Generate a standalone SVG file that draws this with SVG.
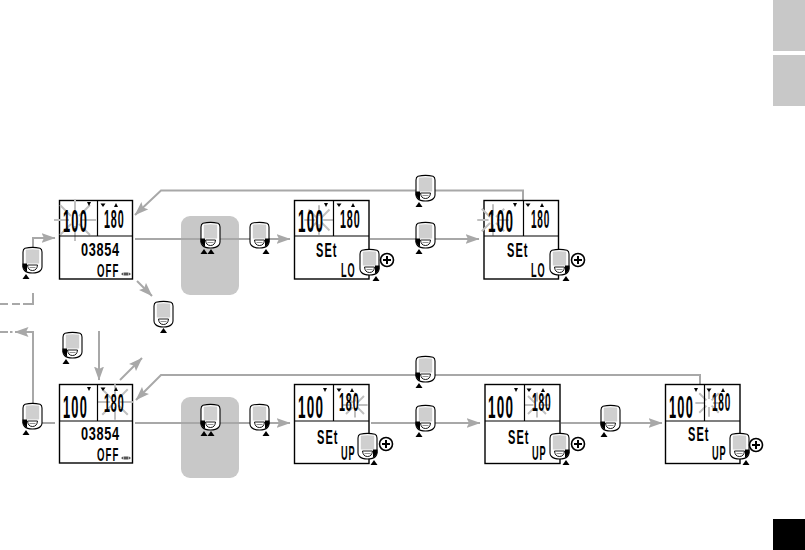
<svg xmlns="http://www.w3.org/2000/svg" width="805" height="550" viewBox="0 0 805 550">
<style>
.disp{fill:#fff;stroke:#000;stroke-width:1.4}
.div{fill:none;stroke:#000;stroke-width:1.2}
.c{fill:none;stroke:#a8a8a8;stroke-width:2}
.ray{fill:none;stroke:#c0c0c0;stroke-width:2;vector-effect:non-scaling-stroke}
.panel{fill:#c8c8c8}
text{font-family:"Liberation Sans",Arial,sans-serif;font-weight:bold;fill:#000}
.a{font-size:32px;letter-spacing:3px}.b{font-size:25px;letter-spacing:2px}.m{font-size:18.500px;letter-spacing:1px}.s{font-size:20px;letter-spacing:2px}.o{font-size:18.500px;letter-spacing:2px}
</style>
<defs>
<marker id="ah" markerUnits="userSpaceOnUse" markerWidth="14" markerHeight="10" refX="13.500" refY="5" orient="auto"><path d="M0 0L14 5L0 10L2.500 5Z" fill="#a8a8a8"/></marker>
<g id="dev">
<path d="M2 1.200Q9.500 -0.500 17 1.200Q19 2 19 5V20Q19 22 17.500 23.500Q15 26 9.500 26Q4 26 1.500 23.500Q0 22 0 20V5Q0 2 2 1.200Z" fill="#fff" stroke="#000" stroke-width="1.100"/>
<path d="M2.800 2.800Q9.500 1.500 16.200 2.800V16.500H2.800Z" fill="#cfcfcf"/>
<path d="M4.500 18H14.500Q14 23.500 9.500 23.500Q5 23.500 4.500 18Z" fill="#fff" stroke="#000" stroke-width="0.900"/>
<path d="M6.500 20.500H12.500" stroke="#777" stroke-width="0.800"/>
</g>
<g id="devL"><use href="#dev"/><path d="M-0.500 16.500H4V24.500L2 23.500L-0.500 20Z" fill="#000"/><path d="M-0.500 32L3 27L6.500 32Z" fill="#000"/></g>
<g id="devR"><use href="#dev"/><path d="M19.500 16.500H15V24.500L17 23.500L19.500 20Z" fill="#000"/><path d="M12.500 32L16 27L19.500 32Z" fill="#000"/></g>
<g id="devC"><use href="#dev"/><path d="M6 32L9.500 27L13 32Z" fill="#000"/></g>
<g id="dev2"><use href="#devL"/><path d="M6.500 32L10 27L13.500 32Z" fill="#000"/></g>
<g id="plus"><circle r="6.500" fill="#fff" stroke="#000" stroke-width="1.600"/><path d="M-4 0H4M0 -4V4" stroke="#000" stroke-width="2"/></g>
<path id="dn" d="M-2 -2H2L0 2Z" fill="#000"/>
<path id="up" d="M-2 2H2L0 -2Z" fill="#000"/>
<path id="hr" d="M-2.500 -1.500H2.500L0 2Z" fill="#000"/>
<path id="st" d="M0 -21V-6M0 21V6M-21 0H-6M21 0H6M-15 -15L-4 -4M15 -15L4 -4M-15 15L-4 4M15 15L4 4" class="ray"/>
<path id="mode" d="M-5 0L-3 -1.500V1.500ZM5 0L3 -1.500V1.500ZM-2.500 -1.500H2.500V1.500H-2.500Z" fill="#555"/>
</defs>
<rect width="805" height="550" fill="#fff"/>

<g id="side-tabs">
<rect class="panel" x="773" y="0" width="32" height="51"/>
<rect class="panel" x="773" y="55" width="32" height="51"/>
<rect x="773" y="519" width="32" height="31" fill="#000"/>
</g>
<g id="panel-top"><rect class="panel" x="181" y="216" width="58" height="79" rx="9"/></g>
<g id="panel-bottom"><rect class="panel" x="181" y="397" width="58" height="81" rx="9"/></g>

<g id="connectors">
<path class="c" d="M33 247V238H55" marker-end="url(#ah)"/>
<path class="c" d="M0 304H33V293" stroke-dasharray="8 4 8 3 30"/>
<path class="c" d="M33 403V332H15" marker-end="url(#ah)"/>
<path class="c" d="M12.500 332H0" stroke-dasharray="2.500 2 8 3"/>
<path class="c" d="M135 239H290" marker-end="url(#ah)"/>
<path class="c" d="M370 239H479" marker-end="url(#ah)"/>
<path class="c" d="M137 281L152 296" marker-end="url(#ah)"/>
<path class="c" d="M523 200V190.500H161L135 215" marker-end="url(#ah)"/>
<path class="c" d="M99 331V380" marker-end="url(#ah)"/>
<path class="c" d="M120 380L142 358" marker-end="url(#ah)"/>
<path class="c" d="M700 384V375H161L136 400" marker-end="url(#ah)"/>
<path class="c" d="M42 423H55"/>
<path class="c" d="M135 423H290" marker-end="url(#ah)"/>
<path class="c" d="M371 423H480" marker-end="url(#ah)"/>
<path class="c" d="M561 423H662" marker-end="url(#ah)"/>
</g>

<g id="display-1">
<rect class="disp" x="59.500" y="200.500" width="73" height="78.500"/>
<use href="#st" x="75" y="220"/>
<path class="div" d="M97.500 200.500V236M59.500 236H132.500"/>
<text class="a" transform="translate(63 232) scale(.4 1)">100</text>
<text class="b" transform="translate(104 228) scale(.43 1)">180</text>
<text class="m" transform="translate(81 255.500) scale(.69 1)">03854</text>
<text class="o" transform="translate(97 276.500) scale(.52 1)">OFF</text>
<use href="#dn" x="89" y="204"/><use href="#hr" x="103" y="205"/><use href="#up" x="116" y="205"/><use href="#mode" x="126" y="274"/>
</g>
<g id="display-2">
<rect class="disp" x="59.500" y="384.500" width="73" height="78.500"/>
<use href="#st" transform="translate(115 402) scale(.85)"/>
<path class="div" d="M97.500 384.500V421M59.500 421H132.500"/>
<text class="a" transform="translate(63 418) scale(.4 1)">100</text>
<text class="b" transform="translate(104 412) scale(.43 1)">180</text>
<text class="m" transform="translate(81 440) scale(.69 1)">03854</text>
<text class="o" transform="translate(97 461) scale(.52 1)">OFF</text>
<use href="#dn" x="89" y="389"/><use href="#hr" x="103" y="389"/><use href="#up" x="116" y="389"/><use href="#mode" x="126" y="458"/>
</g>
<g id="display-3">
<rect class="disp" x="294.500" y="200.500" width="74.500" height="78.500"/>
<use href="#st" transform="translate(319 220) scale(.7)"/>
<path class="div" d="M333.500 200.500V236M294.500 236H369"/>
<text class="a" transform="translate(298 232) scale(.42 1)">100</text>
<text class="b" transform="translate(340 228) scale(.43 1)">180</text>
<text class="s" transform="translate(316 257) scale(.55 1)">SEt</text>
<text class="s" transform="translate(341 277) scale(.46 1)">LO</text>
<use href="#dn" x="326" y="205"/><use href="#hr" x="339" y="205"/><use href="#up" x="353" y="205"/>
</g>
<g id="display-4">
<rect class="disp" x="484" y="200.500" width="74.500" height="78.500"/>
<use href="#st" transform="translate(493 220) scale(.75)"/>
<path class="div" d="M523.500 200.500V236M484 236H558.500"/>
<text class="a" transform="translate(488 232) scale(.42 1)">100</text>
<text class="b" transform="translate(531 228) scale(.4 1)">180</text>
<text class="s" transform="translate(507 257) scale(.55 1)">SEt</text>
<text class="s" transform="translate(531 277) scale(.46 1)">LO</text>
<use href="#dn" x="515" y="205"/><use href="#hr" x="528" y="205"/><use href="#up" x="542" y="205"/>
</g>
<g id="display-5">
<rect class="disp" x="294.500" y="384.500" width="74.500" height="79"/>
<use href="#st" transform="translate(355 405) scale(.6)"/>
<path class="div" d="M333.500 384.500V421M294.500 421H369"/>
<text class="a" transform="translate(298 418) scale(.42 1)">100</text>
<text class="b" transform="translate(339 411) scale(.43 1)">180</text>
<text class="s" transform="translate(317 444) scale(.55 1)">SEt</text>
<text class="s" transform="translate(341 460) scale(.46 1)">UP</text>
<use href="#dn" x="325" y="390"/><use href="#hr" x="339" y="390"/><use href="#up" x="352" y="390"/>
</g>
<g id="display-6">
<rect class="disp" x="485" y="384.500" width="75" height="79"/>
<use href="#st" transform="translate(537 405) scale(.6)"/>
<path class="div" d="M524.500 384.500V421M485 421H560"/>
<text class="a" transform="translate(488 418) scale(.42 1)">100</text>
<text class="b" transform="translate(532 411) scale(.41 1)">180</text>
<text class="s" transform="translate(508 444) scale(.55 1)">SEt</text>
<text class="s" transform="translate(532 460) scale(.46 1)">UP</text>
<use href="#dn" x="516" y="390"/><use href="#hr" x="529" y="390"/><use href="#up" x="543" y="390"/>
</g>
<g id="display-7">
<rect class="disp" x="665.500" y="384.500" width="74.500" height="79"/>
<use href="#st" transform="translate(709 403) scale(.65)"/>
<path class="div" d="M704.500 384.500V421M665.500 421H740"/>
<text class="a" transform="translate(669 418) scale(.4 1)">100</text>
<text class="b" transform="translate(712 411) scale(.4 1)">180</text>
<text class="s" transform="translate(688 441) scale(.55 1)">SEt</text>
<text class="s" transform="translate(712 460) scale(.46 1)">UP</text>
<use href="#dn" x="696" y="390"/><use href="#hr" x="709" y="390"/><use href="#up" x="723" y="390"/>
</g>

<g id="button-a"><use href="#devL" x="23" y="247"/></g>
<g id="button-b"><use href="#devC" x="154" y="301"/></g>
<g id="button-c"><use href="#dev2" x="201" y="222"/></g>
<g id="button-d"><use href="#devR" x="250" y="222"/></g>
<g id="button-e"><use href="#devL" x="416" y="175"/></g>
<g id="button-f"><use href="#devL" x="416" y="222"/></g>
<g id="button-g"><use href="#devR" x="360" y="249"/><use href="#plus" x="387" y="260"/></g>
<g id="button-h"><use href="#devR" x="550" y="249"/><use href="#plus" x="578" y="260"/></g>
<g id="button-i"><use href="#devL" x="23" y="403"/></g>
<g id="button-j"><use href="#devL" x="63" y="332"/></g>
<g id="button-k"><use href="#dev2" x="201" y="404"/></g>
<g id="button-l"><use href="#devR" x="250" y="404"/></g>
<g id="button-m"><use href="#devL" x="416" y="356"/></g>
<g id="button-n"><use href="#devL" x="416" y="405"/></g>
<g id="button-o"><use href="#devL" x="601" y="405"/></g>
<g id="button-p"><use href="#devR" x="358" y="433"/><use href="#plus" x="386" y="444"/></g>
<g id="button-q"><use href="#devR" x="550" y="433"/><use href="#plus" x="578" y="444"/></g>
<g id="button-r"><use href="#devR" x="730" y="433"/><use href="#plus" x="756" y="445"/></g>
</svg>
